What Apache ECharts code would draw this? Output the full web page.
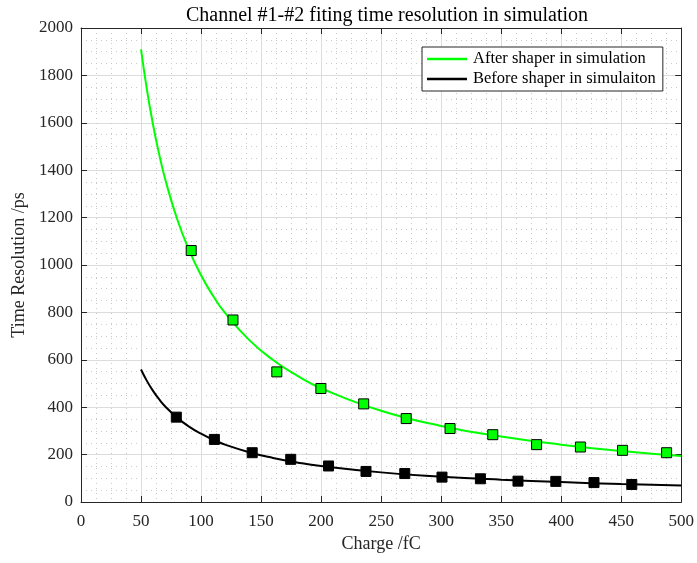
<!DOCTYPE html>
<html>
<head>
<meta charset="utf-8">
<script src="https://cdn.jsdelivr.net/npm/echarts@6/dist/echarts.min.js"></script>
<style>
  html, body { margin: 0; padding: 0; background: #fff; }
  #chart { width: 697px; height: 563px; }
</style>
</head>
<body>
<div id="chart"></div>
<script>
// fitted curves
const fitCharge = [50, 55, 60, 65, 70, 80, 90, 100, 110, 120, 140, 160, 180, 200, 250, 300, 350, 400, 450, 500];
const fitAfter = [1910, 1737, 1592, 1470, 1365, 1195, 1063, 957, 870, 798, 684, 599, 533, 480, 385, 321, 276, 242, 215, 194];
const fitBefore = [559, 510, 469, 434, 404, 356, 318, 288, 263, 242, 210, 186, 167, 152, 125, 107, 94, 84, 76, 70];

// simulated points
const chargeAfter = [91.8, 126.6, 163.1, 199.8, 235.5, 270.9, 307.4, 343.0, 379.5, 416.0, 451.1, 487.8];
const resAfter = [1061, 768, 549, 479, 414, 352, 310, 284, 242, 232, 218, 208];
const chargeBefore = [79.4, 111.1, 142.6, 174.7, 206.2, 237.4, 269.7, 300.7, 332.7, 364.0, 395.5, 427.3, 458.8];
const resBefore = [358, 264, 208, 180, 152, 129, 120, 105, 98, 88, 87, 82, 74];

const nameAfter = 'After shaper in simulation';
const nameBefore = 'Before shaper in simulaiton';

const serif = '"Liberation Serif", "Times New Roman", serif';
const ink = '#262626';

const zip = (xs, ys) => xs.map((x, i) => [x, ys[i]]);

const chart = echarts.init(document.getElementById('chart'));

const baseAxis = {
  type: 'value',
  axisLine: { show: true, onZero: false, lineStyle: { color: ink, width: 1 } },
  axisTick: { show: true, inside: true, length: 6, lineStyle: { color: ink } }
};

const labelStyle = (margin) => ({
  fontFamily: serif, fontSize: 17, color: ink, margin: margin,
  formatter: v => String(v)
});
const majorGrid = { show: true, lineStyle: { color: '#dcdcdc', width: 1 } };
const minorGrid = { show: true, lineStyle: { color: '#c8c8c8', type: [1, 4], width: 1 } };

chart.setOption({
  backgroundColor: '#fff',
  animation: false,
  title: {
    text: 'Channel #1-#2 fiting time resolution in simulation',
    left: 382, top: 1, textAlign: 'center',
    textStyle: { fontFamily: serif, fontSize: 20, fontWeight: 'normal', color: '#000' }
  },
  grid: { left: 81, top: 28, width: 602, height: 474 },
  legend: {
    orient: 'vertical',
    left: 422, top: 47,
    data: [
      { name: nameAfter, icon: 'rect' },
      { name: nameBefore, icon: 'rect' }
    ],
    itemWidth: 40, itemHeight: 2.5, itemGap: 2,
    padding: [3, 7, 3, 5],
    backgroundColor: '#fff',
    borderColor: ink, borderWidth: 1, borderRadius: 0,
    textStyle: { fontFamily: serif, fontSize: 16.5, lineHeight: 18, color: '#000', padding: [0, 0, 0, 1] }
  },
  xAxis: [
    Object.assign({}, baseAxis, {
      position: 'bottom', min: 0, max: 500, interval: 50,
      name: 'Charge /fC', nameLocation: 'middle', nameGap: 30,
      nameTextStyle: { fontFamily: serif, fontSize: 18, color: ink },
      axisLabel: labelStyle(11),
      splitLine: majorGrid,
      minorTick: { show: false, splitNumber: 4 },
      minorSplitLine: minorGrid
    }),
    Object.assign({}, baseAxis, {
      position: 'top', min: 0, max: 500, interval: 50,
      axisLabel: { show: false }, splitLine: { show: false }
    })
  ],
  yAxis: [
    Object.assign({}, baseAxis, {
      position: 'left', min: 0, max: 2000, interval: 200,
      name: 'Time Resolution /ps', nameLocation: 'middle', nameGap: 51,
      nameTextStyle: { fontFamily: serif, fontSize: 18, color: ink },
      axisLabel: labelStyle(8),
      splitLine: majorGrid,
      minorTick: { show: false, splitNumber: 4 },
      minorSplitLine: minorGrid
    }),
    Object.assign({}, baseAxis, {
      position: 'right', min: 0, max: 2000, interval: 200,
      axisLabel: { show: false }, splitLine: { show: false }
    })
  ],
  series: [
    {
      name: nameAfter, type: 'line', smooth: true, showSymbol: false, symbol: 'none',
      data: zip(fitCharge, fitAfter),
      lineStyle: { color: '#00ff00', width: 2 }, itemStyle: { color: '#00ff00' }, z: 3
    },
    {
      name: nameBefore, type: 'line', smooth: true, showSymbol: false, symbol: 'none',
      data: zip(fitCharge, fitBefore),
      lineStyle: { color: '#000', width: 2 }, itemStyle: { color: '#000' }, z: 3
    },
    {
      name: 'after points', type: 'scatter', symbol: 'rect', symbolSize: 10,
      data: zip(chargeAfter, resAfter),
      itemStyle: { color: '#00ff00', borderColor: '#000', borderWidth: 1, opacity: 1 }, z: 4
    },
    {
      name: 'before points', type: 'scatter', symbol: 'rect', symbolSize: 10,
      data: zip(chargeBefore, resBefore),
      itemStyle: { color: '#000', borderColor: '#000', borderWidth: 1, opacity: 1 }, z: 4
    }
  ]
});
</script>
</body>
</html>
